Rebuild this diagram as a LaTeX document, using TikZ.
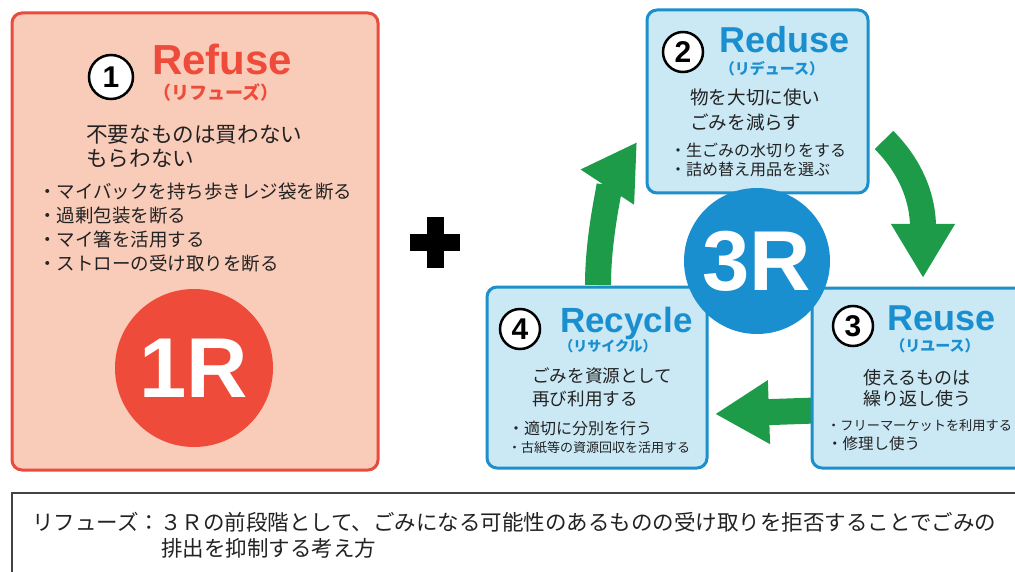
\documentclass[tikz,border=0pt]{standalone}
\usepackage{fontspec}
\usetikzlibrary{arrows.meta}

\newfontfamily\jpfont{Noto Sans CJK JP}
\newfontfamily\latfont{Liberation Sans}

\definecolor{refline}{HTML}{E94B3C}
\definecolor{reffill}{HTML}{F9CBB9}
\definecolor{refred}{HTML}{EE4B3A}
\definecolor{rline}{HTML}{1D8FCB}
\definecolor{rfill}{HTML}{CBE8F5}
\definecolor{rblue}{HTML}{1A8FD0}
\definecolor{cycgreen}{HTML}{1E9B48}
\definecolor{ink}{HTML}{222222}

\tikzset{
  redbox/.style={draw=refline, fill=reffill, line width=3pt, rounded corners=10pt, inner sep=0pt},
  bluebox/.style={draw=rline, fill=rfill, line width=3pt, rounded corners=10pt, inner sep=0pt},
  numcirc/.style={circle, draw=black, line width=2.5pt, fill=white, minimum size=40pt, inner sep=0pt,
    font=\latfont\bfseries\fontsize{30}{30}\selectfont},
  headline/.style={anchor=base west, inner sep=0pt, font=\latfont\bfseries\fontsize{#1}{#1}\selectfont},
  kana/.style={inner sep=0pt, font=\jpfont\bfseries\fontsize{#1}{#1}\selectfont},
  txt/.style={anchor=base west, inner sep=0pt, text=ink, font=\jpfont\fontsize{#1}{#1}\selectfont},
  bigdisc/.style={circle, inner sep=0pt, minimum size=#1, text=white,
    font=\latfont\bfseries\fontsize{85}{85}\selectfont},
  cyc/.style={draw=cycgreen, line width=26pt, -{Triangle[length=54pt, width=60pt]}}
}

\begin{document}
\begin{tikzpicture}[x=1pt, y=-1pt]

  \useasboundingbox (0,0) rectangle (1015,572);
  \fill[white] (0,0) rectangle (1015,572);

  % refuse
  \node[redbox, minimum width=366pt, minimum height=457pt] (refuse) at (195,241.5) {};
  \node[numcirc, minimum size=44pt] (n1) at (111,77) {1};
  \node[headline=42, text=refred] (reft) at (152,75) {Refuse};
  \node[kana=18, text=refred] (refk) at (216,93) {（リフューズ）};
  \node[txt=21.6] (refa) at (86,143) {不要なものは買わない};
  \node[txt=21.6] (refb) at (86,167) {もらわない};
  \foreach \t [count=\i] in {・マイバックを持ち歩きレジ袋を断る, ・過剰包装を断る,
      ・マイ箸を活用する, ・ストローの受け取りを断る}
    \node[txt=18.5] (refi\i) at (38,{199+23.7*(\i-1)}) {\t};
  \node[bigdisc=158pt, fill=refred] (oner) at (194,368) {1R};

  % plus
  \fill (410,234) rectangle (460,251);
  \fill (426.5,217) rectangle (443.5,268);

  % cycle arrows
  \coordinate (c1s) at (598,285);
  \coordinate (c1e) at (637,142);
  \coordinate (c2s) at (884,140);
  \coordinate (c2e) at (923,278);
  \coordinate (c3s) at (830,410);
  \coordinate (c3e) at (715,414);
  \draw[cyc] (c1s) .. controls (598,232) and (612,180) .. (c1e);
  \draw[cyc] (c2s) .. controls (912,168) and (923,200) .. (c2e);
  \draw[cyc] (c3s) -- (c3e);

  % reduse
  \node[bluebox, minimum width=221pt, minimum height=183pt] (reduse) at (757.5,101.5) {};
  \node[numcirc] (n2) at (683,52) {2};
  \node[headline=36, text=rblue] (redt) at (719,53) {Reduse};
  \node[kana=15, text=rblue] (redk) at (772,69) {（リデュース）};
  \node[txt=18.6] (reda) at (690,105) {物を大切に使い};
  \node[txt=18.6] (redb) at (690,130) {ごみを減らす};
  \node[txt=16] (redi1) at (670,157) {・生ごみの水切りをする};
  \node[txt=16] (redi2) at (670,176) {・詰め替え用品を選ぶ};

  % recycle
  \node[bluebox, minimum width=220pt, minimum height=181pt] (recycle) at (597,377.5) {};
  \node[numcirc] (n4) at (520,329) {4};
  \node[headline=35, text=rblue] (rect) at (560,332) {Recycle};
  \node[kana=14, text=rblue] (reck) at (608,346) {（リサイクル）};
  \node[txt=17.6] (reca) at (532,382) {ごみを資源として};
  \node[txt=17.6] (recb) at (532,405) {再び利用する};
  \node[txt=16] (reci1) at (508,434) {・適切に分別を行う};
  \node[txt=13] (reci2) at (508,452) {・古紙等の資源回収を活用する};

  % reuse
  \node[bluebox, minimum width=223pt, minimum height=180pt] (reuse) at (923.5,378) {};
  \node[numcirc] (n3) at (853,326) {3};
  \node[headline=36, text=rblue] (reut) at (887,330) {Reuse};
  \node[kana=15, text=rblue] (reuk) at (935,346) {（リユース）};
  \node[txt=18] (reua) at (863,384) {使えるものは};
  \node[txt=18] (reub) at (863,405) {繰り返し使う};
  \node[txt=13.2] (reui1) at (827,430) {・フリーマーケットを利用する};
  \node[txt=15.5] (reui2) at (827,449) {・修理し使う};

  % 3R
  \node[bigdisc=146pt, fill=rblue] (threer) at (757,261) {3R};

  % note
  \draw[line width=1.5pt, draw=ink!85] (12,493) rectangle (1040,610);
  \node[txt=21.5] (notea) at (32,530) {リフューズ：３Ｒの前段階として、ごみになる可能性のあるものの受け取りを拒否することでごみの};
  \node[txt=21.5] (noteb) at (161,556) {排出を抑制する考え方};

\end{tikzpicture}
\end{document}
